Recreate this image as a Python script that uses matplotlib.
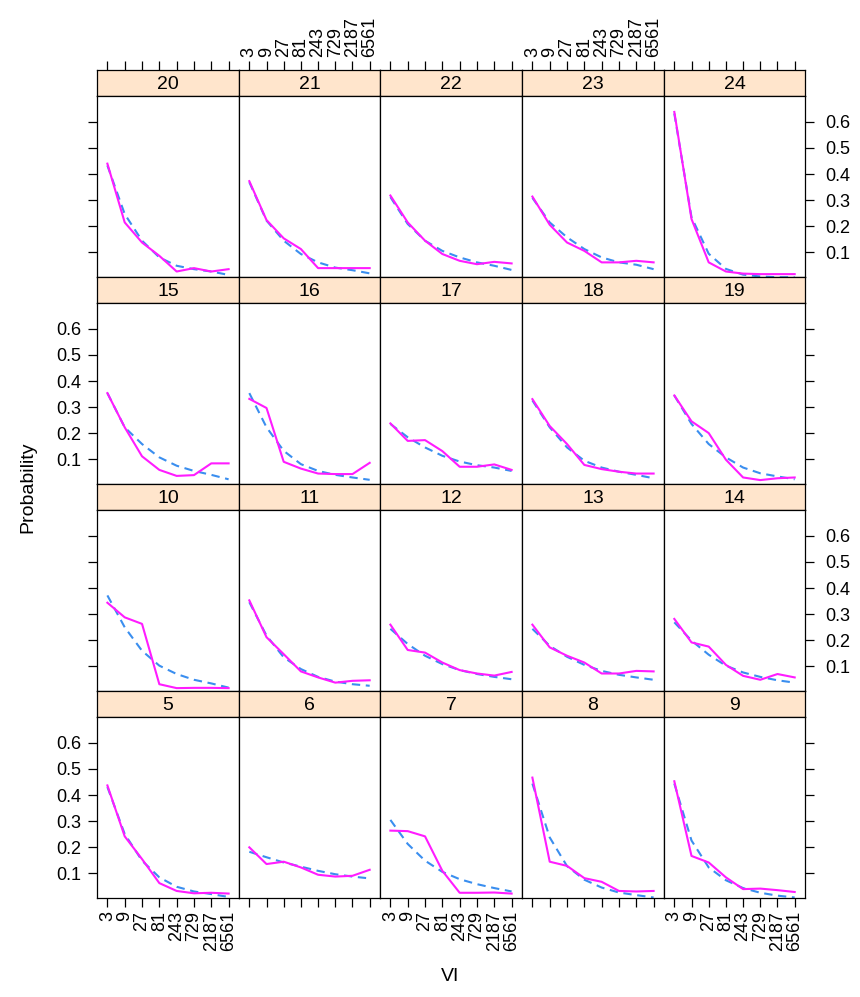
import numpy as np
import matplotlib
matplotlib.use("Agg")
import matplotlib.pyplot as plt
from matplotlib.ticker import FixedLocator, NullLocator

plt.rcParams['font.family'] = ['Liberation Sans', 'DejaVu Sans']

# VI schedule values on the x axis
vi = [3, 9, 27, 81, 243, 729, 2187, 6561]
prob_ticks = [0.1, 0.2, 0.3, 0.4, 0.5, 0.6]

# panel layout, top row first
panel_rows = [[20, 21, 22, 23, 24],
              [15, 16, 17, 18, 19],
              [10, 11, 12, 13, 14],
              [5, 6, 7, 8, 9]]

# observed probabilities (solid magenta)
observed = {
    20: [0.440, 0.215, 0.138, 0.087, 0.027, 0.040, 0.027, 0.036],
    21: [0.373, 0.224, 0.154, 0.113, 0.040, 0.040, 0.040, 0.040],
    22: [0.318, 0.215, 0.145, 0.094, 0.068, 0.055, 0.064, 0.058],
    23: [0.314, 0.206, 0.138, 0.106, 0.062, 0.062, 0.068, 0.062],
    24: [0.638, 0.228, 0.062, 0.027, 0.019, 0.017, 0.017, 0.017],
    15: [0.354, 0.223, 0.112, 0.060, 0.037, 0.040, 0.085, 0.085],
    16: [0.332, 0.297, 0.091, 0.065, 0.046, 0.044, 0.044, 0.087],
    17: [0.238, 0.171, 0.174, 0.132, 0.072, 0.072, 0.081, 0.060],
    18: [0.331, 0.228, 0.159, 0.079, 0.063, 0.053, 0.046, 0.046],
    19: [0.345, 0.246, 0.201, 0.099, 0.031, 0.021, 0.028, 0.031],
    10: [0.344, 0.288, 0.263, 0.032, 0.017, 0.018, 0.018, 0.017],
    11: [0.353, 0.212, 0.147, 0.081, 0.058, 0.038, 0.045, 0.047],
    12: [0.260, 0.163, 0.153, 0.115, 0.086, 0.073, 0.065, 0.079],
    13: [0.260, 0.173, 0.141, 0.115, 0.073, 0.073, 0.083, 0.081],
    14: [0.282, 0.192, 0.176, 0.106, 0.064, 0.049, 0.071, 0.058],
    5:  [0.437, 0.242, 0.155, 0.063, 0.033, 0.024, 0.026, 0.023],
    6:  [0.200, 0.136, 0.145, 0.123, 0.095, 0.088, 0.091, 0.114],
    7:  [0.264, 0.262, 0.242, 0.110, 0.026, 0.026, 0.027, 0.023],
    8:  [0.467, 0.145, 0.129, 0.082, 0.068, 0.033, 0.031, 0.033],
    9:  [0.453, 0.167, 0.142, 0.085, 0.040, 0.042, 0.036, 0.029],
}

# fitted probabilities (dashed blue)
fitted = {
    20: [0.433, 0.247, 0.145, 0.081, 0.049, 0.036, 0.027, 0.014],
    21: [0.369, 0.222, 0.145, 0.094, 0.062, 0.042, 0.032, 0.020],
    22: [0.312, 0.209, 0.145, 0.106, 0.081, 0.062, 0.049, 0.033],
    23: [0.309, 0.215, 0.158, 0.113, 0.081, 0.062, 0.053, 0.036],
    24: [0.632, 0.235, 0.095, 0.037, 0.015, 0.008, 0.005, 0.005],
    15: [0.354, 0.223, 0.159, 0.108, 0.076, 0.056, 0.041, 0.024],
    16: [0.354, 0.223, 0.133, 0.082, 0.056, 0.041, 0.031, 0.022],
    17: [0.236, 0.185, 0.146, 0.114, 0.092, 0.078, 0.069, 0.056],
    18: [0.326, 0.223, 0.146, 0.095, 0.069, 0.053, 0.041, 0.028],
    19: [0.345, 0.236, 0.159, 0.108, 0.069, 0.047, 0.035, 0.024],
    10: [0.372, 0.250, 0.160, 0.103, 0.071, 0.049, 0.035, 0.019],
    11: [0.346, 0.218, 0.135, 0.090, 0.060, 0.042, 0.032, 0.026],
    12: [0.244, 0.186, 0.141, 0.109, 0.086, 0.071, 0.060, 0.051],
    13: [0.244, 0.179, 0.137, 0.106, 0.083, 0.068, 0.058, 0.049],
    14: [0.269, 0.199, 0.145, 0.103, 0.077, 0.060, 0.047, 0.038],
    5:  [0.431, 0.251, 0.149, 0.085, 0.049, 0.031, 0.021, 0.010],
    6:  [0.183, 0.162, 0.142, 0.126, 0.110, 0.097, 0.088, 0.081],
    7:  [0.305, 0.213, 0.149, 0.106, 0.078, 0.059, 0.044, 0.031],
    8:  [0.444, 0.238, 0.128, 0.076, 0.046, 0.027, 0.017, 0.008],
    9:  [0.444, 0.226, 0.123, 0.074, 0.044, 0.026, 0.015, 0.008],
}

W, H = 860, 997
fig = plt.figure(figsize=(W / 100, H / 100), dpi=100)


def px_axes(left, top, width, height):
    return fig.add_axes([left / W, 1 - (top + height) / H, width / W, height / H])


col_edges = [97, 239, 380, 522, 664, 805]
row_tops = [70, 277, 484, 691]
strip_h = 26
panel_h = 181
xlim = (3 ** 0.4, 3 ** 8.6)
ylim = (0.006, 0.699)
fs = 13

for i, row in enumerate(panel_rows):
    top = row_tops[i]
    for j, panel in enumerate(row):
        left = col_edges[j]
        col_w = col_edges[j + 1] - col_edges[j]

        strip = px_axes(left, top, col_w, strip_h)
        strip.set_facecolor('#FFE5CC')
        strip.set_xscale('log', base=3)
        strip.set_xlim(xlim)
        strip.set_ylim(0, 1)
        strip.text(0.5, 0.46, str(panel), transform=strip.transAxes,
                   ha='center', va='center', fontsize=fs + 1)
        strip.set_yticks([])
        strip.xaxis.set_minor_locator(NullLocator())
        if i == 0:
            strip.xaxis.set_major_locator(FixedLocator(vi))
            strip.xaxis.tick_top()
            strip.tick_params(axis='x', direction='out', length=6.5, width=0.9,
                              pad=3, labelsize=fs, labelrotation=90)
            if j in (1, 3):
                strip.set_xticklabels([str(v) for v in vi])
            else:
                strip.set_xticklabels([])
        else:
            strip.set_xticks([])

        ax = px_axes(left, top + strip_h, col_w, panel_h)
        ax.set_xscale('log', base=3)
        ax.plot(vi, fitted[panel], color='#3A8EEF', lw=1.5, dashes=(4, 2.7))
        ax.plot(vi, observed[panel], color='#FF1CFF', lw=1.5)
        ax.set_xlim(xlim)
        ax.set_ylim(ylim)
        ax.xaxis.set_minor_locator(NullLocator())
        ax.yaxis.set_minor_locator(NullLocator())

        # x ticks only below the bottom row
        if i == len(panel_rows) - 1:
            ax.xaxis.set_major_locator(FixedLocator(vi))
            ax.tick_params(axis='x', direction='out', length=6.5, width=0.9,
                           pad=3, labelsize=fs, labelrotation=90)
            if j in (0, 2, 4):
                ax.set_xticklabels([str(v) for v in vi])
            else:
                ax.set_xticklabels([])
        else:
            ax.set_xticks([])

        # y ticks alternate between left and right sides
        if j == 0:
            ax.set_yticks(prob_ticks)
            ax.tick_params(axis='y', direction='out', length=6.5, width=0.9,
                           pad=5, labelsize=fs)
            if i in (1, 3):
                ax.set_yticklabels([str(v) for v in prob_ticks])
            else:
                ax.set_yticklabels([])
        elif j == len(row) - 1:
            ax.set_yticks(prob_ticks)
            ax.yaxis.tick_right()
            ax.tick_params(axis='y', direction='out', length=6.5, width=0.9,
                           pad=8, labelsize=fs)
            if i in (0, 2):
                ax.set_yticklabels([str(v) for v in prob_ticks])
            else:
                ax.set_yticklabels([])
        else:
            ax.set_yticks([])

        for a in (strip, ax):
            for sp in a.spines.values():
                sp.set_linewidth(0.9)
                sp.set_color('black')

fig.text(28 / W, 1 - 487 / H, 'Probability', rotation=90, ha='center',
         va='center', fontsize=fs + 1)
fig.text(450 / W, 1 - 976 / H, 'VI', ha='center', va='center', fontsize=fs + 1)

fig.savefig('out.png', dpi=100)
